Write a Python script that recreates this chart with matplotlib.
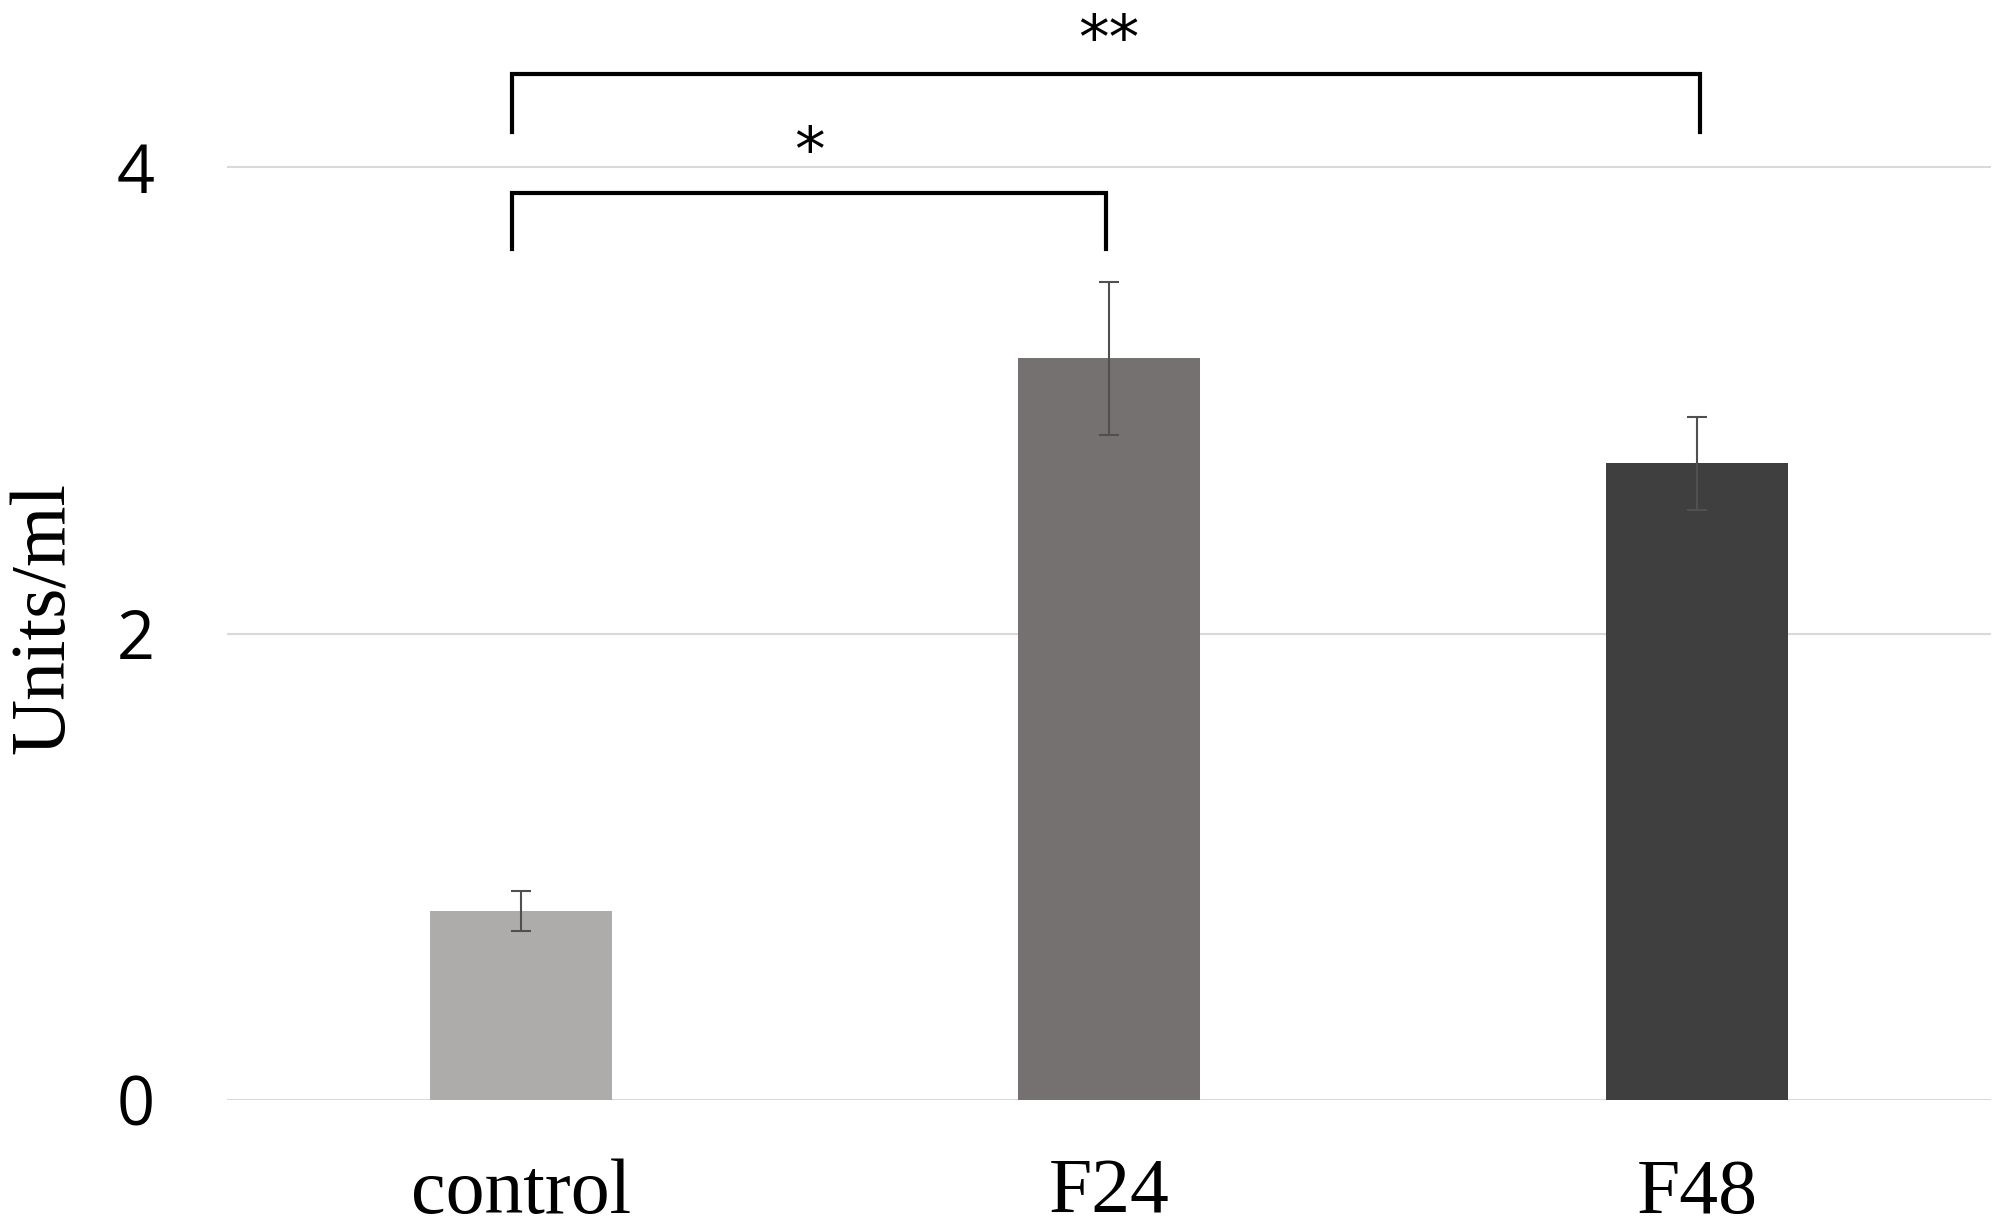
import matplotlib.pyplot as plt
import numpy as np

groups = ['control', 'F24', 'F48']
values = [0.81, 3.18, 2.73]
errors = [0.085, 0.33, 0.20]
colors = ['#aeabab', '#767171', '#3f3f3f']

# significance brackets: (left x, right x, bar height, leg bottom, label, label x, label baseline)
brackets = [(-0.015, 0.995, 3.89, 3.65, '*', 0.49, 3.99),
            (-0.015, 2.005, 4.40, 4.15, '**', 1.0, 4.47)]

fig = plt.figure(figsize=(19.97, 12.27), dpi=100)
ax = fig.add_axes([0.1137, 0.1035, 0.8833, 0.8932])

x = np.arange(len(groups))
ax.bar(x, values, width=0.31, color=colors, zorder=2)
ax.errorbar(x, values, yerr=errors, fmt='none', ecolor='#505050',
            elinewidth=1.5, capsize=7, capthick=1.5, zorder=3)

for left, right, top, leg, label, lx, ly in brackets:
    ax.plot([left, left, right, right], [leg, top, top, leg],
            color='black', lw=3, solid_joinstyle='miter', zorder=4)
    ax.text(lx, ly, label, ha='center', va='baseline',
            fontsize=44, family='DejaVu Sans')

ax.set_xlim(-0.5, 2.5)
ax.set_ylim(0, 4.7)
ax.set_yticks([0, 2, 4])
ax.yaxis.grid(True, color='#d9d9d9', lw=1.5, zorder=0)
ax.set_axisbelow(True)
for s in ax.spines.values():
    s.set_visible(False)
ax.tick_params(length=0)
ax.tick_params(axis='y', pad=52)
ax.tick_params(axis='x', pad=42)

ax.set_xticks(x)
ax.set_xticklabels(groups, family='Liberation Serif', fontsize=56)
for t in ax.get_yticklabels():
    t.set_family('Open Sans')
    t.set_fontsize(48)

ax.set_ylabel('Units/ml', family='Liberation Serif', fontsize=56)
ax.yaxis.set_label_coords(-0.083, 0.44)

fig.savefig('out.png', dpi=100)
